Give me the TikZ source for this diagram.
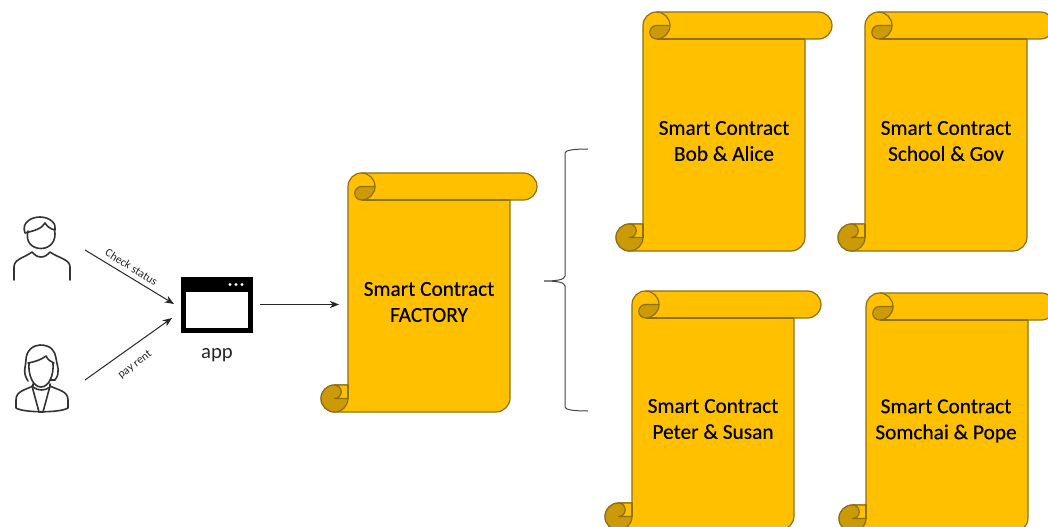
\documentclass[tikz,border=0pt]{standalone}
\usepackage{fontspec}
\setmainfont{Carlito}
\newfontfamily\scrollfont[FakeBold=0.35]{Carlito}
\usetikzlibrary{arrows.meta}
\definecolor{scrollgold}{HTML}{FFC000}
\definecolor{scrolldark}{HTML}{CC9A06}
\definecolor{scrollline}{HTML}{8F6F12}
\definecolor{bracegray}{HTML}{444444}
\tikzset{
  scrollpart/.style={draw=scrollline,line width=0.9pt,fill=scrollgold,line join=round},
  scrolldarkpart/.style={draw=scrollline,line width=0.9pt,fill=scrolldark,line join=round},
  scrolltext/.style={align=center,minimum width=162*0.75pt,inner sep=0pt,font=\scrollfont\fontsize{16}{19.5}\selectfont,text=black},
  iconline/.style={draw=black!80,line width=1.2pt,line cap=round,line join=round},
  flow/.style={draw=black!85,line width=0.75pt,-{Stealth[length=7pt,width=5.5pt]}},
  flowlabel/.style={inner sep=0pt,font=\fontsize{8.7}{10}\selectfont,text=black!85},
  scrollpic/.pic={
    \path[scrollpart] (0,-13.5) arc[start angle=180,end angle=90,radius=13.5] -- (175.5,0)
      arc[start angle=90,end angle=-90,radius=13.5] -- (162,-27) -- (162,-225)
      arc[start angle=0,end angle=-90,radius=14] -- (-13.5,-239)
      arc[start angle=270,end angle=90,radius=13.5] -- (0,-212) -- cycle;
    \path[scrollpart] (13.5,-27) -- (162,-27);
    \path[scrolldarkpart] (27,-13.5) arc[start angle=0,end angle=-90,radius=13.5]
      arc[start angle=270,end angle=90,radius=6.75] -- cycle;
    \path[scrollpart,fill=none] (13.5,0) arc[start angle=90,end angle=0,radius=13.5];
    \path[scrolldarkpart] (-13.5,-225.5) circle[radius=13.5];
    \path[scrollpart] (-13.5,-212) -- (0,-212) -- (0,-225.5) -- (-13.5,-225.5)
      arc[start angle=-90,end angle=90,radius=6.75] -- cycle;
    \path[draw=scrollline,line width=0.9pt] (0,-212) -- (0,-225.5);
  }
}
\begin{document}
\begin{tikzpicture}[x=0.75pt,y=0.75pt]
\useasboundingbox (0,0) rectangle (1048,-527);
\clip (0,0) rectangle (1048,-527);
% man
\node[minimum width=42pt,minimum height=47pt,inner sep=0pt] (man) at (42,-248) {};
\path[iconline] (28,-231) .. controls (25,-243) and (33,-248.5) .. (41,-248.5) .. controls (50,-248.5) and (57,-241) .. (54.5,-230);
\path[iconline] (25,-233) .. controls (21,-222) and (32,-217) .. (40,-217) .. controls (50,-217) and (57,-224) .. (55,-230) .. controls (50,-229) and (47,-226) .. (45,-223) .. controls (42,-229) and (33,-231) .. (25,-233);
\path[iconline] (14,-280) -- (14,-267) .. controls (14,-259) and (24,-258) .. (32,-252) .. controls (35,-255) and (37,-257) .. (41,-257) .. controls (45,-257) and (47,-255) .. (50,-252) .. controls (58,-258) and (70,-259) .. (70,-267) -- (70,-280);
% woman
\node[minimum width=42pt,minimum height=50pt,inner sep=0pt] (woman) at (42,-379) {};
\path[iconline] (28,-381) .. controls (22,-372) and (26,-366) .. (26,-360) .. controls (26,-351) and (33,-345) .. (40,-345) .. controls (51,-345) and (55,-351) .. (56,-358) .. controls (57,-366) and (61,-372) .. (55,-380) -- (50,-380);
\path[iconline] (28,-363) .. controls (34,-362) and (41,-360) .. (46,-356) .. controls (48,-360) and (51,-362) .. (54,-363);
\path[iconline] (29,-363) .. controls (28,-375) and (33,-387) .. (41,-387) .. controls (49,-387) and (54,-375) .. (53,-363);
\path[iconline] (33,-384) -- (33,-386) .. controls (25,-390) and (16,-391) .. (16,-400) -- (16,-408) .. controls (24,-413) and (60,-413) .. (68,-408) -- (68,-400) .. controls (68,-391) and (58,-390) .. (50,-386) -- (50,-384);
\path[iconline] (32,-386) -- (39,-412) -- (43,-412) -- (50,-386);
\path[iconline] (33,-387) .. controls (38,-391) and (45,-391) .. (50,-387);
% app window
\node[draw=black,fill=white,line width=3.75pt,minimum width=67*0.75pt,minimum height=51*0.75pt,inner sep=0pt] (app) at (216.5,-304.5) {};
\fill[black] (181,-277) rectangle (252,-292);
\foreach \dx in {230,236,242} \fill[white] (\dx,-284.5) circle[radius=1.6];
\node[inner sep=0pt,font=\fontsize{15.5}{18}\selectfont,text=black!85] (applabel) at (217,-355) {app};
% scrolls
\pic at (348,-173) {scrollpic};
\pic at (643,-12) {scrollpic};
\pic at (865,-12) {scrollpic};
\pic at (632,-291) {scrollpic};
\pic at (866,-293) {scrollpic};
\node[scrolltext] (factory) at (429,-302) {Smart Contract\\FACTORY};
\node[scrolltext] (bob) at (724,-141) {Smart Contract\\Bob \& Alice};
\node[scrolltext] (school) at (946,-141) {Smart Contract\\School \& Gov};
\node[scrolltext] (peter) at (713,-419) {Smart Contract\\Peter \& Susan};
\node[scrolltext] (somchai) at (946,-421) {Smart Contract\\Somchai \& Pope};
% connectors
\coordinate (manout) at (85,-250);
\coordinate (appinA) at (174,-304);
\coordinate (womanout) at (85,-380);
\coordinate (appinB) at (172,-318);
\draw[flow] (manout) -- (appinA);
\draw[flow] (womanout) -- (appinB);
\draw[flow,shorten <=5.5pt,shorten >=6.5pt] (app.east) -- (app.east -| factory.west);
\node[flowlabel,rotate=-32] (checklabel) at (131.5,-267) {Check status};
\node[flowlabel,rotate=37] (rentlabel) at (135,-365) {pay rent};
% brace
\coordinate (bracetop) at (588,-149);
\coordinate (bracetip) at (544,-281);
\coordinate (bracebot) at (588,-411);
\draw[draw=bracegray,line width=0.75pt] (bracetop) .. controls (575,-149) and (565,-150) .. (565,-153) -- (565,-276) .. controls (565,-280) and (555,-281) .. (bracetip) .. controls (555,-281) and (565,-282) .. (565,-286) -- (565,-407) .. controls (565,-410) and (575,-411) .. (bracebot);
\end{tikzpicture}
\end{document}
